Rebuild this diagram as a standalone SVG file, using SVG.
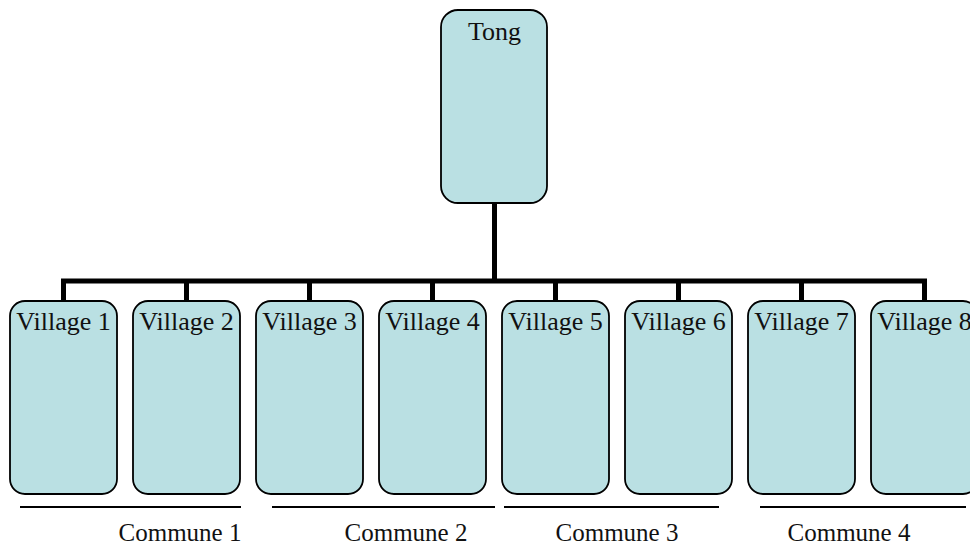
<svg xmlns="http://www.w3.org/2000/svg" width="970" height="548" viewBox="0 0 970 548">
<style>
.box{fill:#BAE0E3;stroke:#000;stroke-width:1.8}
.lbl{font-family:"Liberation Serif","Times New Roman",serif;font-size:26px;fill:#111;text-anchor:middle}
.com{font-family:"Liberation Serif","Times New Roman",serif;font-size:25px;fill:#111;text-anchor:middle}
.conn{stroke:#000;stroke-width:5;fill:none}
.ul{stroke:#000;stroke-width:1.8}
</style>
<rect width="970" height="548" fill="#fff"/>
<g id="connectors">
<line class="conn" x1="494.5" y1="203" x2="494.5" y2="281"/>
<line class="conn" x1="61" y1="281" x2="927" y2="281"/>
<line class="conn" x1="63.5" y1="281" x2="63.5" y2="301"/>
<line class="conn" x1="186.5" y1="281" x2="186.5" y2="301"/>
<line class="conn" x1="309.5" y1="281" x2="309.5" y2="301"/>
<line class="conn" x1="432.5" y1="281" x2="432.5" y2="301"/>
<line class="conn" x1="555.5" y1="281" x2="555.5" y2="301"/>
<line class="conn" x1="678.5" y1="281" x2="678.5" y2="301"/>
<line class="conn" x1="801.5" y1="281" x2="801.5" y2="301"/>
<line class="conn" x1="924.5" y1="281" x2="924.5" y2="301"/>
</g>
<g id="tong"><rect class="box" x="441" y="10" width="106" height="193" rx="17"/><text class="lbl" x="494.5" y="40">Tong</text></g>
<g id="village1"><rect class="box" x="10" y="301" width="107" height="193" rx="15"/><text class="lbl" x="63.5" y="330">Village 1</text></g>
<g id="village2"><rect class="box" x="133" y="301" width="107" height="193" rx="15"/><text class="lbl" x="186.5" y="330">Village 2</text></g>
<g id="village3"><rect class="box" x="256" y="301" width="107" height="193" rx="15"/><text class="lbl" x="309.5" y="330">Village 3</text></g>
<g id="village4"><rect class="box" x="379" y="301" width="107" height="193" rx="15"/><text class="lbl" x="432.5" y="330">Village 4</text></g>
<g id="village5"><rect class="box" x="502" y="301" width="107" height="193" rx="15"/><text class="lbl" x="555.5" y="330">Village 5</text></g>
<g id="village6"><rect class="box" x="625" y="301" width="107" height="193" rx="15"/><text class="lbl" x="678.5" y="330">Village 6</text></g>
<g id="village7"><rect class="box" x="748" y="301" width="107" height="193" rx="15"/><text class="lbl" x="801.5" y="330">Village 7</text></g>
<g id="village8"><rect class="box" x="871" y="301" width="107" height="193" rx="15"/><text class="lbl" x="924.5" y="330">Village 8</text></g>
<g id="communes">
<line class="ul" x1="20" y1="507" x2="241" y2="507"/>
<line class="ul" x1="272" y1="507" x2="495" y2="507"/>
<line class="ul" x1="504" y1="507" x2="719" y2="507"/>
<line class="ul" x1="760" y1="507" x2="966" y2="507"/>
<text class="com" x="180" y="541">Commune 1</text>
<text class="com" x="406" y="541">Commune 2</text>
<text class="com" x="617" y="541">Commune 3</text>
<text class="com" x="849" y="541">Commune 4</text>
</g>
</svg>
